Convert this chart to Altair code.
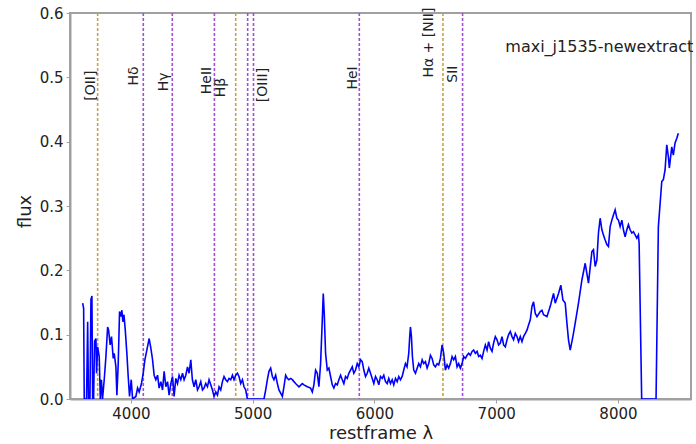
import altair as alt
import pandas as pd

# ---- spectrum (restframe wavelength, flux) ----
wavelength = [
    3604, 3612, 3617, 3636, 3645, 3652, 3664, 3672, 3680, 3686, 3694, 3702, 3713, 3718, 3727,
    3740, 3749, 3758, 3767, 3781, 3795, 3809, 3817, 3830, 3841, 3855, 3863, 3877, 3885, 3896,
    3907, 3918, 3926, 3934, 3943, 3954, 3967, 3978, 3989, 4003, 4014, 4041, 4055, 4068, 4087,
    4101, 4115, 4131, 4150, 4164, 4178, 4191, 4205, 4219, 4232, 4246, 4260, 4273, 4287, 4301,
    4314, 4328, 4342, 4355, 4369, 4383, 4396, 4410, 4424, 4437, 4451, 4465, 4478, 4492, 4505,
    4519, 4533, 4547, 4560, 4574, 4588, 4601, 4615, 4629, 4642, 4656, 4670, 4683, 4697, 4711,
    4724, 4738, 4752, 4765, 4779, 4793, 4806, 4820, 4834, 4847, 4861, 4875, 4888, 4902, 4916,
    4929, 4943, 4957, 5093, 5107, 5121, 5134, 5148, 5162, 5175, 5189, 5203, 5216, 5230, 5244,
    5257, 5271, 5285, 5298, 5312, 5326, 5339, 5353, 5380, 5408, 5421, 5449, 5476, 5490, 5503,
    5517, 5531, 5544, 5558, 5572, 5580, 5588, 5599, 5613, 5626, 5640, 5654, 5667, 5681, 5695,
    5708, 5722, 5736, 5749, 5763, 5777, 5790, 5804, 5818, 5831, 5845, 5859, 5872, 5886, 5900,
    5913, 5927, 5941, 5954, 5968, 5982, 5995, 6009, 6023, 6036, 6050, 6064, 6077, 6091, 6105,
    6118, 6132, 6146, 6159, 6173, 6187, 6200, 6214, 6228, 6241, 6255, 6268, 6282, 6290, 6296,
    6304, 6312, 6323, 6337, 6364, 6378, 6392, 6405, 6419, 6433, 6446, 6460, 6474, 6487, 6501,
    6515, 6528, 6542, 6556, 6569, 6583, 6597, 6610, 6624, 6638, 6651, 6665, 6679, 6692, 6706,
    6720, 6733, 6747, 6761, 6774, 6788, 6802, 6815, 6829, 6843, 6856, 6870, 6884, 6897, 6911,
    6925, 6938, 6952, 6966, 6979, 6993, 7007, 7020, 7034, 7048, 7061, 7075, 7089, 7102, 7116,
    7130, 7143, 7157, 7171, 7184, 7198, 7212, 7225, 7239, 7253, 7266, 7280, 7294, 7307, 7321,
    7335, 7362, 7376, 7389, 7417, 7444, 7471, 7485, 7512, 7531, 7548, 7567, 7581, 7594, 7608,
    7630, 7649, 7676, 7704, 7731, 7758, 7786, 7799, 7813, 7827, 7840, 7854, 7868, 7881, 7895,
    7909, 7922, 7936, 7950, 7963, 7977, 7991, 8004, 8018, 8032, 8045, 8059, 8073, 8086, 8100,
    8114, 8127, 8141, 8155, 8168, 8174, 8195, 8313, 8332, 8360, 8373, 8387, 8401, 8414, 8422,
    8442, 8455, 8469, 8483, 8496,
]
flux = [
    0.149, 0.141, 0.0, 0.0, 0.12, 0.0, 0.0, 0.155, 0.16, 0.0, 0.0, 0.09, 0.094, 0.04, 0.081,
    0.066, 0.0, 0.03, 0.0, 0.03, 0.066, 0.112, 0.107, 0.084, 0.097, 0.063, 0.071, 0.05, 0.006, 0.055,
    0.136, 0.128, 0.138, 0.12, 0.131, 0.107, 0.071, 0.035, 0.004, 0.03, 0.0, 0.004, 0.017, 0.011, 0.024,
    0.04, 0.061, 0.076, 0.094, 0.079, 0.061, 0.037, 0.03, 0.037, 0.017, 0.027, 0.014, 0.043, 0.019, 0.027,
    0.006, 0.024, 0.035, 0.004, 0.032, 0.024, 0.037, 0.03, 0.04, 0.03, 0.037, 0.05, 0.04, 0.061, 0.03,
    0.019, 0.03, 0.014, 0.019, 0.027, 0.014, 0.017, 0.024, 0.019, 0.03, 0.022, 0.014, 0.004, 0.011, 0.006,
    0.019, 0.014, 0.027, 0.035, 0.03, 0.027, 0.032, 0.03, 0.037, 0.03, 0.037, 0.04, 0.035, 0.024, 0.03,
    0.019, 0.014, 0.0, 0.0, 0.014, 0.03, 0.043, 0.048, 0.035, 0.03, 0.037, 0.024, 0.014, 0.009, 0.004,
    0.019, 0.037, 0.032, 0.03, 0.032, 0.03, 0.027, 0.024, 0.019, 0.024, 0.022, 0.019, 0.017, 0.011, 0.022,
    0.045, 0.04, 0.019, 0.055, 0.123, 0.164, 0.133, 0.071, 0.045, 0.048, 0.035, 0.022, 0.017, 0.024, 0.022,
    0.03, 0.037, 0.03, 0.024, 0.035, 0.032, 0.04, 0.045, 0.05, 0.04, 0.045, 0.055, 0.05, 0.061, 0.058,
    0.045, 0.035, 0.04, 0.048, 0.04, 0.032, 0.024, 0.035, 0.03, 0.022, 0.035, 0.032, 0.037, 0.027, 0.024,
    0.032, 0.024, 0.03, 0.022, 0.032, 0.027, 0.035, 0.03, 0.035, 0.045, 0.055, 0.05, 0.071, 0.097, 0.112,
    0.097, 0.066, 0.045, 0.04, 0.055, 0.05, 0.061, 0.055, 0.058, 0.048, 0.055, 0.068, 0.063, 0.053, 0.05,
    0.055, 0.053, 0.063, 0.084, 0.071, 0.045, 0.053, 0.048, 0.055, 0.066, 0.061, 0.066, 0.05, 0.055, 0.048,
    0.055, 0.066, 0.063, 0.068, 0.071, 0.068, 0.074, 0.076, 0.071, 0.074, 0.066, 0.068, 0.063, 0.074, 0.084,
    0.076, 0.089, 0.079, 0.074, 0.087, 0.097, 0.092, 0.084, 0.087, 0.097, 0.084, 0.081, 0.092, 0.1, 0.105,
    0.097, 0.092, 0.102, 0.097, 0.089, 0.097, 0.089, 0.097, 0.102, 0.107, 0.115, 0.123, 0.144, 0.151, 0.133,
    0.128, 0.136, 0.138, 0.131, 0.128, 0.144, 0.164, 0.149, 0.164, 0.177, 0.154, 0.149, 0.118, 0.092, 0.076,
    0.097, 0.118, 0.149, 0.185, 0.211, 0.18, 0.229, 0.232, 0.206, 0.216, 0.258, 0.281, 0.263, 0.255, 0.247,
    0.24, 0.237, 0.268, 0.278, 0.286, 0.294, 0.281, 0.278, 0.268, 0.278, 0.263, 0.252, 0.263, 0.271, 0.263,
    0.258, 0.26, 0.255, 0.25, 0.255, 0.242, 0.0, 0.0, 0.268, 0.338, 0.341, 0.356, 0.395, 0.377, 0.359,
    0.392, 0.379, 0.398, 0.405, 0.413,
]

# ---- emission / absorption line markers ----
line_wl = [3727, 4102, 4340, 4686, 4861, 4959, 5007, 5876, 6563, 6724]
line_group = ["o", "p", "p", "p", "o", "p", "p", "p", "o", "p"]

# ---- line labels ----
label_text = ["[OII]", "Hδ", "Hγ", "HeII", "Hβ", "[OIII]", "HeI", "Hα + [NII]", "SII"]
label_wl = [3671, 4025, 4271, 4622, 4739, 5082, 5821, 6450, 6642]
label_flux = [0.487, 0.502, 0.493, 0.495, 0.484, 0.488, 0.499, 0.554, 0.505]

title_text = ["maxi_j1535-newextract"]
title_wl = [7075]
title_flux = [0.547]

FONT = "DejaVu Sans"
W, H = 621, 386

spec = pd.DataFrame({"wl": wavelength, "flux": flux})
lines = pd.DataFrame({"wl": line_wl, "group": line_group})
labels = pd.DataFrame({"text": label_text, "wl": label_wl, "flux": label_flux})
ttl = pd.DataFrame({"text": title_text, "wl": title_wl, "flux": title_flux})

xscale = alt.Scale(domain=[3500, 8600], nice=False, zero=False)
yscale = alt.Scale(domain=[0, 0.6], nice=False)

xaxis = alt.Axis(
    title="restframe λ", values=[4000, 5000, 6000, 7000, 8000], format="d",
    grid=False, tickSize=4, labelPadding=3, labelFontSize=15, titleFontSize=18,
    titleFontWeight="normal", titleY=34, titleBaseline="middle",
    domainColor="#a0a0a0", domainWidth=2, tickColor="#a0a0a0",
    labelColor="#222222", titleColor="#222222", labelFont=FONT, titleFont=FONT,
)
yaxis = alt.Axis(
    title="flux", values=[0, 0.1, 0.2, 0.3, 0.4, 0.5, 0.6], format=".1f",
    grid=False, tickSize=4, labelPadding=3, labelFontSize=15, titleFontSize=18,
    titleFontWeight="normal", titleX=-45, titleY=H / 2 + 5, titleAngle=270,
    titleAlign="center", titleBaseline="middle",
    domainColor="#a0a0a0", domainWidth=2, tickColor="#a0a0a0",
    labelColor="#222222", titleColor="#222222", labelFont=FONT, titleFont=FONT,
)

rules = alt.Chart(lines).mark_rule(strokeDash=[3, 2], strokeWidth=1.6).encode(
    x=alt.X("wl:Q", scale=xscale, axis=xaxis),
    color=alt.Color("group:N", scale=alt.Scale(domain=["o", "p"], range=["#c4a24e", "#a24fd6"]), legend=None),
)

spectrum = alt.Chart(spec).mark_line(color="#0000ff", strokeWidth=1.6, clip=True).encode(
    x=alt.X("wl:Q", scale=xscale, axis=xaxis),
    y=alt.Y("flux:Q", scale=yscale, axis=yaxis),
    order="wl:Q",
)

label_marks = alt.Chart(labels).mark_text(
    angle=270, align="center", baseline="middle", fontSize=14, font=FONT, color="#222222"
).encode(
    x=alt.X("wl:Q", scale=xscale),
    y=alt.Y("flux:Q", scale=yscale),
    text="text:N",
)

title_mark = alt.Chart(ttl).mark_text(
    align="left", baseline="middle", fontSize=16, font=FONT, color="#222222"
).encode(
    x=alt.X("wl:Q", scale=xscale),
    y=alt.Y("flux:Q", scale=yscale),
    text="text:N",
)

chart = alt.layer(rules, spectrum, label_marks, title_mark).properties(
    width=W, height=H,
    autosize=alt.AutoSizeParams(type="none"),
    padding={"left": 70, "top": 13, "right": 5, "bottom": 45},
    background="white",
).configure_view(stroke="#a0a0a0", strokeWidth=2)

chart.save("out.html", embed_options={"renderer": "svg", "actions": False})
